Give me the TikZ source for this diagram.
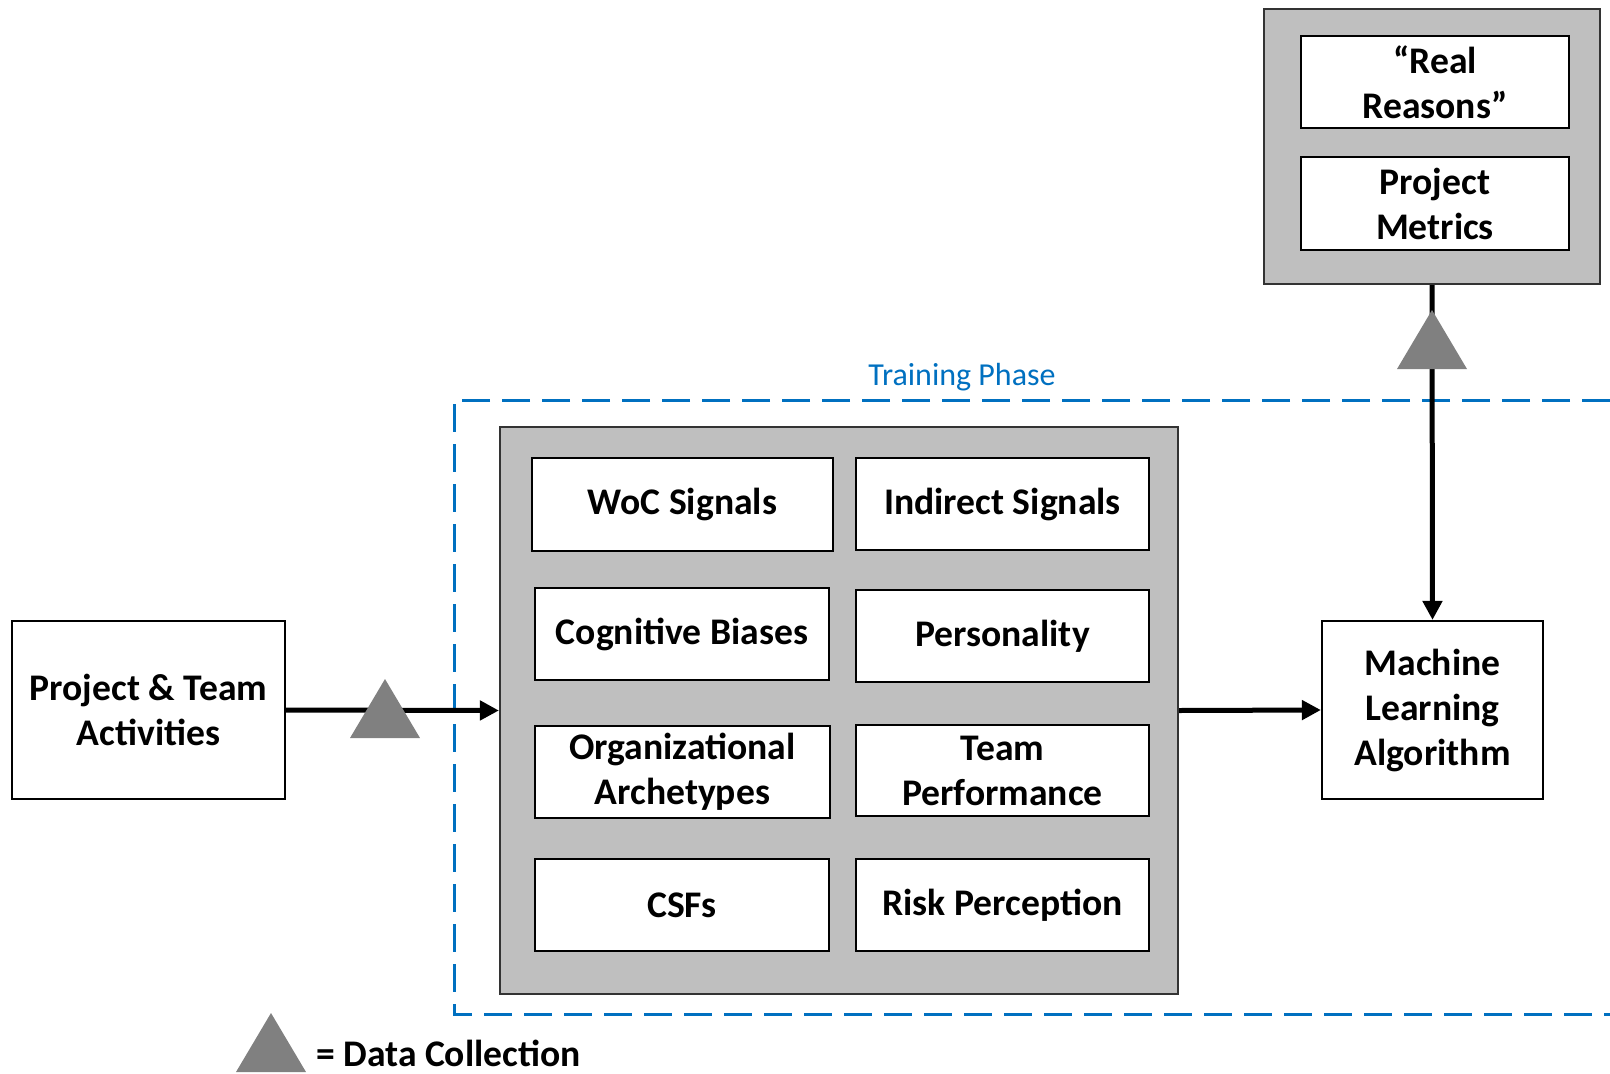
\documentclass[tikz,border=0pt]{standalone}
\usepackage{fontspec}
\setmainfont{Carlito}
\usetikzlibrary{arrows.meta,calc}
\definecolor{panelgray}{RGB}{191,191,191}
\definecolor{markgray}{RGB}{128,128,128}
\definecolor{phaseblue}{RGB}{0,112,192}
% data-collection marker: triangle centred on a named point
\newcommand\dcmark[1]{%
  \fill[markgray] ($(#1)+(-35,29)$) -- ($(#1)+(0,-30)$) -- ($(#1)+(35,29)$) -- cycle;}
\begin{document}
\begin{tikzpicture}[x=1pt,y=-1pt,
  box/.style={draw=black,line width=2.2pt,fill=white,align=center,inner sep=0pt,
    font=\fontsize{37.6}{45}\selectfont\bfseries},
  panel/.style={draw=black!80,line width=2.2pt,fill=panelgray,inner sep=0pt},
  flow/.style={line width=5pt,-{Triangle[length=19pt,width=19pt]}},
  phase/.style={draw=phaseblue,line width=3pt,dash pattern=on 28pt off 12pt}]
\useasboundingbox (0,0) rectangle (1610,1074);

% training phase frame (runs off the right edge)
\draw[phase] (1610,400) -- (454,400) -- (454,1014) -- (1610,1014);
\node[text=phaseblue,font=\fontsize{32}{38}\selectfont] (phaselbl) at (962,377) {Training Phase};

% outcome panel
\node[panel,minimum width=336pt,minimum height=275pt] (outcome) at (1432,146.5) {};
\node[box,minimum width=268pt,minimum height=92pt] (reasons) at (1435,82) {“Real\\Reasons”};
\node[box,minimum width=268pt,minimum height=93pt] (metrics) at (1435,203.5) {Project\\Metrics};

% signal panel
\node[panel,minimum width=678pt,minimum height=567pt] (signals) at (839,710.5) {};
\node[box,minimum width=301pt,minimum height=93pt] (woc) at (682.5,504.5) {WoC Signals};
\node[box,minimum width=293pt,minimum height=92pt] (indirect) at (1002.5,504) {Indirect Signals};
\node[box,minimum width=294pt,minimum height=92pt] (biases) at (682,634) {Cognitive Biases};
\node[box,minimum width=293pt,minimum height=92pt] (personality) at (1002.5,636) {Personality};
\node[box,minimum width=295pt,minimum height=92pt] (archetypes) at (682.5,772) {Organizational\\Archetypes};
\node[box,minimum width=293pt,minimum height=91pt] (teamperf) at (1002.5,770.5) {Team\\Performance};
\node[box,minimum width=294pt,minimum height=92pt] (csfs) at (682,905) {CSFs};
\node[box,minimum width=293pt,minimum height=92pt] (risk) at (1002.5,905) {Risk Perception};

% inputs and model
\node[box,minimum width=273pt,minimum height=178pt] (activities) at (148.5,710) {Project \& Team\\Activities};
\node[box,minimum width=221pt,minimum height=178pt] (ml) at (1432.5,710) {Machine\\Learning\\Algorithm};

% connectors
\draw[flow] (activities.east) -- (signals.west);
\draw[flow] (signals.east) -- (ml.west);
\draw[flow] (outcome.south) -- (ml.north);

% data-collection markers
\coordinate (mkin) at (385,709);
\coordinate (mkout) at (1432,340);
\dcmark{mkin}
\dcmark{mkout}

% legend
\coordinate (mklegend) at (271,1043);
\dcmark{mklegend}
\node[anchor=west,inner sep=0pt,font=\fontsize{37.6}{45}\selectfont\bfseries] (legend) at (316,1053) {= Data Collection};
\end{tikzpicture}
\end{document}
